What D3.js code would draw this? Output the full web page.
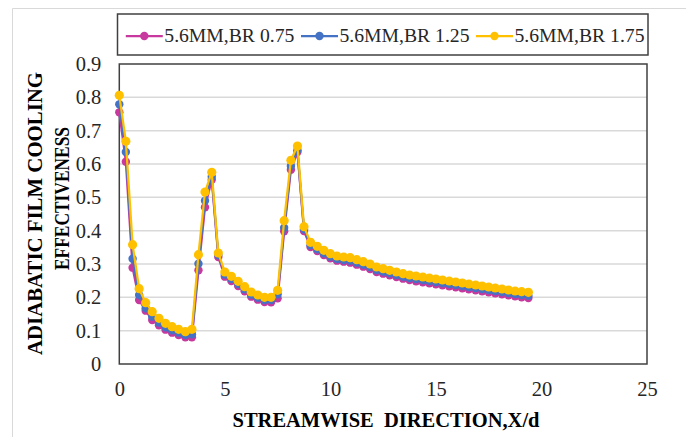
<!DOCTYPE html>
<html>
<head>
<meta charset="utf-8">
<script src="https://cdn.jsdelivr.net/npm/d3@7"></script>
<style>
  html, body { margin: 0; padding: 0; background: #fff; }
  svg { display: block; }
  text { white-space: pre; }
</style>
</head>
<body>
<svg id="chart" width="686" height="437"></svg>
<script>
// Streamwise positions X/d of the measurement points
const xPos = [0, 0.31, 0.63, 0.94, 1.25, 1.56, 1.88, 2.19, 2.5, 2.81, 3.13, 3.44, 3.75, 4.06, 4.38,
  4.69, 5, 5.31, 5.63, 5.94, 6.25, 6.56, 6.88, 7.19, 7.5, 7.81, 8.13, 8.44, 8.75, 9.06, 9.38,
  9.69, 10, 10.31, 10.63, 10.94, 11.25, 11.56, 11.88, 12.19, 12.5, 12.81, 13.13, 13.44, 13.75,
  14.06, 14.38, 14.69, 15, 15.31, 15.63, 15.94, 16.25, 16.56, 16.88, 17.19, 17.5, 17.81, 18.13,
  18.44, 18.75, 19.06, 19.38];

// Adiabatic film cooling effectiveness, one array per blowing ratio
const br075 = [0.755, 0.607, 0.289, 0.192, 0.160, 0.132, 0.116, 0.103, 0.094, 0.087, 0.080, 0.080,
  0.281, 0.470, 0.553, 0.321, 0.262, 0.249, 0.234, 0.218, 0.202, 0.193, 0.186, 0.185, 0.197,
  0.398, 0.583, 0.636, 0.399, 0.351, 0.339, 0.327, 0.317, 0.310, 0.307, 0.304, 0.298, 0.292,
  0.285, 0.276, 0.271, 0.266, 0.261, 0.256, 0.252, 0.248, 0.245, 0.242, 0.239, 0.236, 0.233,
  0.230, 0.227, 0.224, 0.221, 0.218, 0.215, 0.212, 0.209, 0.206, 0.203, 0.200, 0.198];

const br125 = [0.779, 0.636, 0.316, 0.207, 0.167, 0.142, 0.124, 0.110, 0.101, 0.094, 0.087, 0.089,
  0.301, 0.490, 0.562, 0.327, 0.268, 0.255, 0.240, 0.224, 0.208, 0.199, 0.192, 0.192, 0.209,
  0.409, 0.594, 0.641, 0.404, 0.356, 0.344, 0.332, 0.322, 0.315, 0.312, 0.310, 0.304, 0.298,
  0.291, 0.282, 0.277, 0.272, 0.267, 0.262, 0.258, 0.255, 0.252, 0.249, 0.246, 0.243, 0.240,
  0.237, 0.234, 0.231, 0.228, 0.225, 0.222, 0.219, 0.216, 0.213, 0.210, 0.207, 0.205];

const br175 = [0.806, 0.668, 0.358, 0.226, 0.184, 0.157, 0.137, 0.122, 0.112, 0.104, 0.097, 0.104,
  0.328, 0.516, 0.575, 0.333, 0.276, 0.263, 0.248, 0.232, 0.216, 0.207, 0.200, 0.200, 0.221,
  0.430, 0.611, 0.654, 0.412, 0.365, 0.353, 0.341, 0.331, 0.324, 0.321, 0.319, 0.313, 0.307,
  0.300, 0.291, 0.286, 0.281, 0.276, 0.271, 0.267, 0.264, 0.261, 0.258, 0.255, 0.252, 0.249,
  0.246, 0.243, 0.240, 0.237, 0.234, 0.231, 0.228, 0.225, 0.222, 0.219, 0.217, 0.215];

const seriesNames = ["5.6MM,BR 0.75", "5.6MM,BR 1.25", "5.6MM,BR 1.75"];
const seriesColors = ["#C7399E", "#4472C4", "#FFC000"];
const seriesValues = [br075, br125, br175];

const xTicks = [0, 5, 10, 15, 20, 25];
const yTicks = [0, 0.1, 0.2, 0.3, 0.4, 0.5, 0.6, 0.7, 0.8, 0.9];

const xTitle = "STREAMWISE  DIRECTION,X/d";
const yTitleLines = ["ADIABATIC FILM COOLING", "EFFECTIVENESS"];

// ---- layout ----
const plot = { left: 119.3, right: 647, top: 64, bottom: 364 };
const serif = "'Liberation Serif', 'Times New Roman', serif";

const svg = d3.select("#chart");

// light outer frame of the chart area
svg.append("path")
  .attr("d", "M12.5,437 L12.5,8.5 L686,8.5")
  .attr("fill", "none")
  .attr("stroke", "#d9d9d9")
  .attr("stroke-width", 1);

const x = d3.scaleLinear().domain([0, 25]).range([plot.left, plot.right]);
const y = d3.scaleLinear().domain([0, 0.9]).range([plot.bottom, plot.top]);

// horizontal gridlines
svg.append("g")
  .selectAll("line")
  .data(yTicks.filter(t => t > 0 && t < 0.9))
  .join("line")
  .attr("x1", plot.left).attr("x2", plot.right)
  .attr("y1", d => y(d)).attr("y2", d => y(d))
  .attr("stroke", "#d9d9d9")
  .attr("stroke-width", 1.5);

// y axis tick labels
const yAxis = d3.axisLeft(y).tickValues(yTicks).tickSize(0).tickPadding(18)
  .tickFormat(d => d === 0 ? "0" : d3.format(".1f")(d));
const gy = svg.append("g").attr("transform", `translate(${plot.left},0)`).call(yAxis);
gy.select(".domain").remove();
gy.selectAll("text")
  .attr("font-family", serif)
  .attr("font-size", 20.5)
  .attr("fill", "#262626");

// x axis tick labels
const xAxis = d3.axisBottom(x).tickValues(xTicks).tickSize(0).tickPadding(17)
  .tickFormat(d3.format("d"));
const gx = svg.append("g").attr("transform", `translate(0,${plot.bottom})`).call(xAxis);
gx.select(".domain").remove();
gx.selectAll("text")
  .attr("font-family", serif)
  .attr("font-size", 20.5)
  .attr("fill", "#262626");

// plot frame
svg.append("rect")
  .attr("x", plot.left).attr("y", plot.top)
  .attr("width", plot.right - plot.left)
  .attr("height", plot.bottom - plot.top)
  .attr("fill", "none")
  .attr("stroke", "#404040")
  .attr("stroke-width", 1.5);

// series: line plus circular markers
const line = d3.line().x(d => x(d[0])).y(d => y(d[1]));
seriesValues.forEach((vals, k) => {
  const pts = vals.map((v, i) => [xPos[i], v]);
  const g = svg.append("g");
  g.append("path")
    .datum(pts)
    .attr("d", line)
    .attr("fill", "none")
    .attr("stroke", seriesColors[k])
    .attr("stroke-width", 2.25)
    .attr("stroke-linejoin", "round");
  g.selectAll("circle")
    .data(pts)
    .join("circle")
    .attr("cx", d => x(d[0]))
    .attr("cy", d => y(d[1]))
    .attr("r", k === 2 ? 4.6 : 4.2)
    .attr("fill", seriesColors[k]);
});

// axis titles
svg.append("text")
  .attr("x", 386).attr("y", 427)
  .attr("text-anchor", "middle")
  .attr("font-family", serif)
  .attr("font-weight", "bold")
  .attr("font-size", 20.5)
  .attr("textLength", 307)
  .attr("lengthAdjust", "spacingAndGlyphs")
  .attr("fill", "#000")
  .text(xTitle);

const yTitleX = [35, 61.7];
const yTitleY = [213.5, 198.5];
const yTitleLen = [283, 143];
yTitleLines.forEach((t, i) => {
  svg.append("text")
    .attr("transform", `translate(${yTitleX[i]},${yTitleY[i]}) rotate(-90)`)
    .attr("text-anchor", "middle")
    .attr("dominant-baseline", "central")
    .attr("font-family", serif)
    .attr("font-weight", "bold")
    .attr("font-size", 21)
    .attr("textLength", yTitleLen[i])
    .attr("lengthAdjust", "spacingAndGlyphs")
    .attr("fill", "#000")
    .text(t);
});

// legend
const legend = svg.append("g");
legend.append("rect")
  .attr("x", 117.5).attr("y", 14)
  .attr("width", 648 - 117.5).attr("height", 41)
  .attr("fill", "#fff")
  .attr("stroke", "#404040")
  .attr("stroke-width", 1.5);

const legendLineX = [125.8, 301, 476];
const legendY = 36;
seriesNames.forEach((name, k) => {
  const x0 = legendLineX[k];
  legend.append("line")
    .attr("x1", x0).attr("x2", x0 + 37)
    .attr("y1", legendY).attr("y2", legendY)
    .attr("stroke", seriesColors[k])
    .attr("stroke-width", 2.25);
  legend.append("circle")
    .attr("cx", x0 + 18.5).attr("cy", legendY)
    .attr("r", 4.2)
    .attr("fill", seriesColors[k]);
  legend.append("text")
    .attr("x", x0 + 38.5).attr("y", legendY)
    .attr("dominant-baseline", "central")
    .attr("font-family", serif)
    .attr("font-size", 18.5)
    .attr("textLength", 130)
    .attr("lengthAdjust", "spacingAndGlyphs")
    .attr("fill", "#262626")
    .text(name);
});
</script>
</body>
</html>
